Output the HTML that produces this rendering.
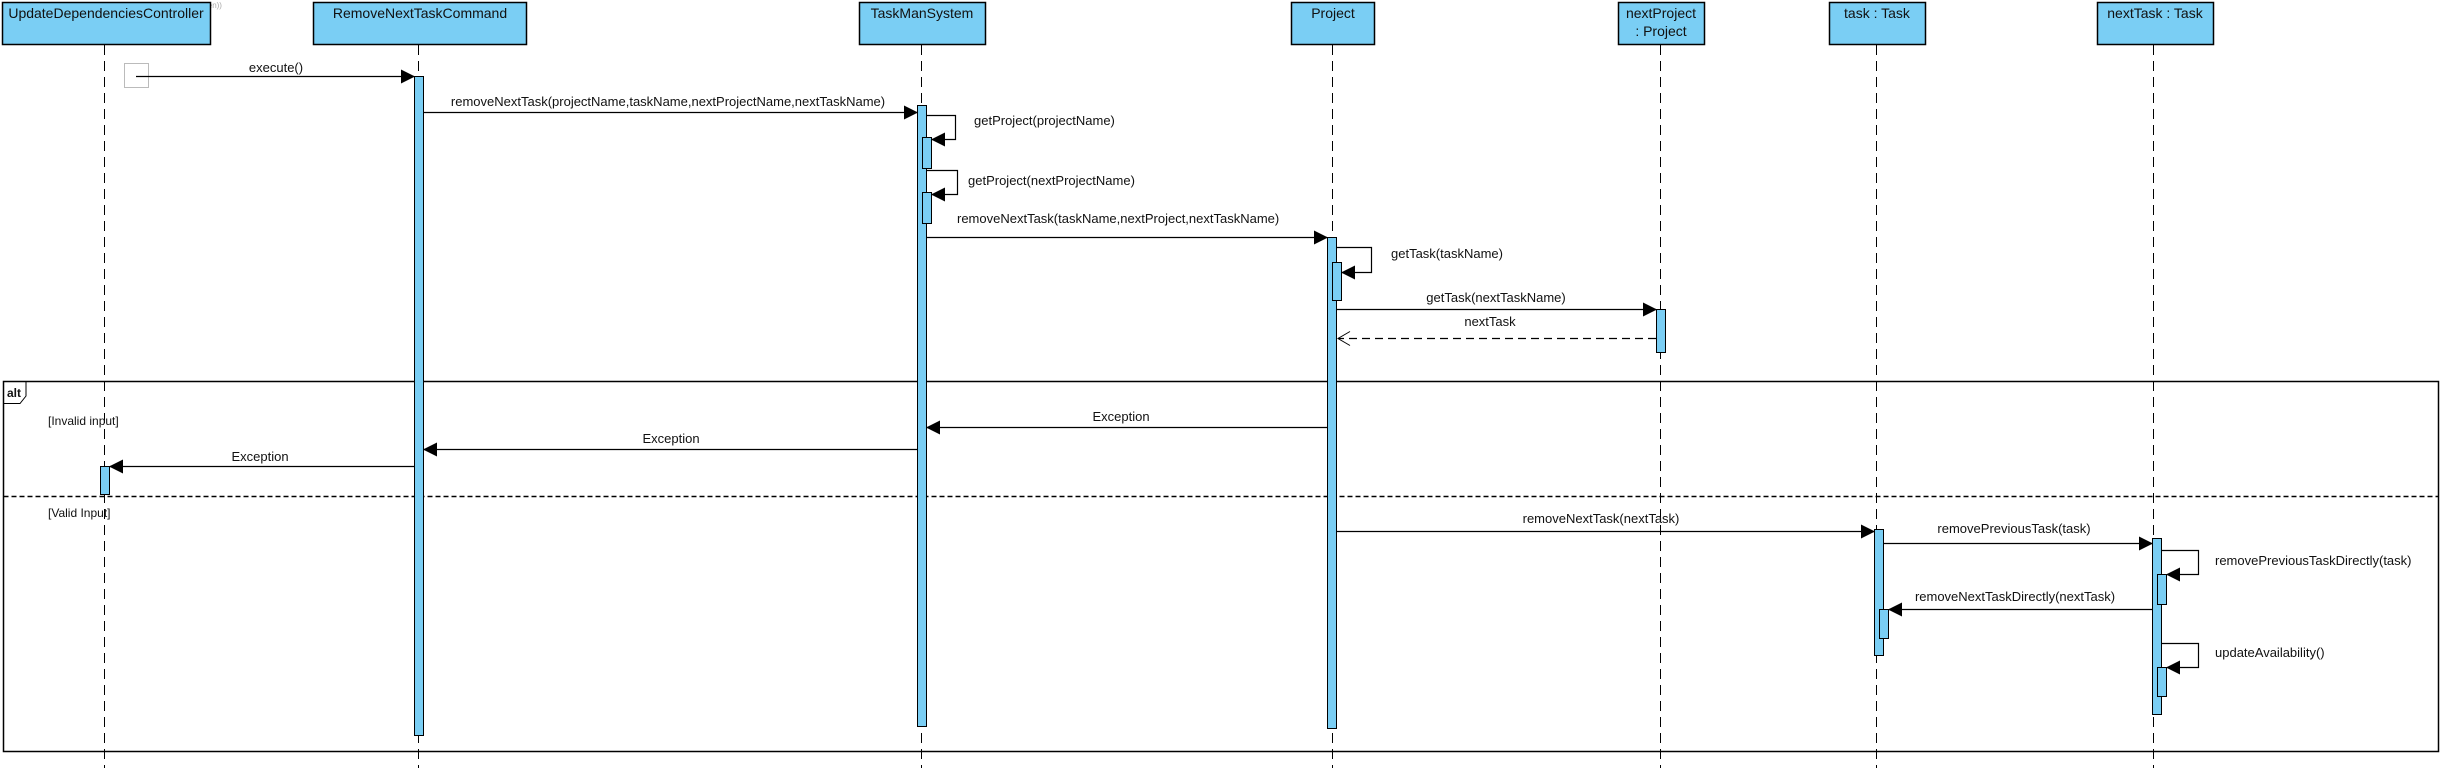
<!DOCTYPE html>
<html><head><meta charset="utf-8">
<style>
html,body{margin:0;padding:0;background:#fff;}
svg{display:block;}
text{font-family:"Liberation Sans",Arial,sans-serif;fill:#111;}
</style></head>
<body>
<svg width="2441" height="768" viewBox="0 0 2441 768" xmlns="http://www.w3.org/2000/svg">
<defs>
<marker id="f" markerWidth="14" markerHeight="14" refX="13" refY="7" orient="auto" markerUnits="userSpaceOnUse">
<path d="M0,0 L14,7 L0,14 z" fill="#000"/>
</marker>
<marker id="o" markerWidth="15" markerHeight="16" refX="13" refY="8" orient="auto" markerUnits="userSpaceOnUse">
<path d="M1,1 L13,8 L1,15" fill="none" stroke="#000" stroke-width="1"/>
</marker>
</defs>
<text x="2" y="8" font-size="8" style="fill:#aaa">Visual Paradigm Standard(Dieter van Hooydonk(K.U.Leuven))</text>

<g stroke="#000" stroke-width="1" stroke-dasharray="10,6">
<line x1="104.5" y1="45" x2="104.5" y2="768"/>
<line x1="418.5" y1="45" x2="418.5" y2="768"/>
<line x1="921.5" y1="45" x2="921.5" y2="768"/>
<line x1="1332.5" y1="45" x2="1332.5" y2="768"/>
<line x1="1660.5" y1="45" x2="1660.5" y2="768"/>
<line x1="1876.5" y1="45" x2="1876.5" y2="768"/>
<line x1="2153.5" y1="45" x2="2153.5" y2="768"/>
</g>

<g fill="#7ACEF4" stroke="#000" stroke-width="1.5">
<rect x="2.5" y="2.5" width="208" height="42"/>
<rect x="313.5" y="2.5" width="213" height="42"/>
<rect x="859.5" y="2.5" width="126" height="42"/>
<rect x="1291.5" y="2.5" width="83" height="42"/>
<rect x="1618.5" y="2.5" width="86" height="42"/>
<rect x="1829.5" y="2.5" width="96" height="42"/>
<rect x="2097.5" y="2.5" width="116" height="42"/>
</g>
<g font-size="14" text-anchor="middle">
<text x="106" y="18">UpdateDependenciesController</text>
<text x="420" y="18">RemoveNextTaskCommand</text>
<text x="922" y="18">TaskManSystem</text>
<text x="1333" y="18">Project</text>
<text x="1661" y="18">nextProject</text>
<text x="1661" y="36">: Project</text>
<text x="1877" y="18">task : Task</text>
<text x="2155" y="18">nextTask : Task</text>
</g>

<rect x="3.5" y="381.5" width="2435" height="370" fill="none" stroke="#000" stroke-width="1.5"/>
<path d="M3.5,403.5 H20 L26,396 V381.5" fill="none" stroke="#000" stroke-width="1"/>
<text x="7" y="397" font-size="12" font-weight="bold">alt</text>
<line x1="3.5" y1="496.5" x2="2438.5" y2="496.5" stroke="#000" stroke-width="1.5" stroke-dasharray="5,3"/>
<text x="48" y="425" font-size="12">[Invalid input]</text>
<text x="48" y="517" font-size="12">[Valid Input]</text>

<g fill="#7ACEF4" stroke="#000" stroke-width="1">
<rect x="414.5" y="76.5" width="9" height="659"/>
<rect x="917.5" y="105.5" width="9" height="621"/>
<rect x="922.5" y="137.5" width="9" height="31"/>
<rect x="922.5" y="192.5" width="9" height="31"/>
<rect x="1327.5" y="237.5" width="9" height="491"/>
<rect x="1332.5" y="262.5" width="9" height="38"/>
<rect x="1656.5" y="309.5" width="9" height="43"/>
<rect x="100.5" y="466.5" width="9" height="28"/>
<rect x="1874.5" y="529.5" width="9" height="126"/>
<rect x="1879.5" y="609.5" width="9" height="29"/>
<rect x="2152.5" y="538.5" width="9" height="176"/>
<rect x="2157.5" y="574.5" width="9" height="30"/>
<rect x="2157.5" y="667.5" width="9" height="29"/>
</g>

<rect x="124.5" y="63.5" width="24" height="24" fill="none" stroke="#bbb" stroke-width="1"/>

<g stroke="#000" stroke-width="1.2" fill="none">
<line x1="136" y1="76.5" x2="414" y2="76.5" marker-end="url(#f)"/>
<line x1="424" y1="112.5" x2="917" y2="112.5" marker-end="url(#f)"/>
<polyline points="927,115.5 955.5,115.5 955.5,139.5 932,139.5" marker-end="url(#f)"/>
<polyline points="927,170.5 957.5,170.5 957.5,194.5 932,194.5" marker-end="url(#f)"/>
<line x1="927" y1="237.5" x2="1327" y2="237.5" marker-end="url(#f)"/>
<polyline points="1337,247.5 1371.5,247.5 1371.5,272.5 1342,272.5" marker-end="url(#f)"/>
<line x1="1337" y1="309.5" x2="1656" y2="309.5" marker-end="url(#f)"/>
<line x1="1656" y1="338.5" x2="1338" y2="338.5" stroke-dasharray="8,5" marker-end="url(#o)"/>
<line x1="1327" y1="427.5" x2="927" y2="427.5" marker-end="url(#f)"/>
<line x1="917" y1="449.5" x2="424" y2="449.5" marker-end="url(#f)"/>
<line x1="414" y1="466.5" x2="110" y2="466.5" marker-end="url(#f)"/>
<line x1="1337" y1="531.5" x2="1874" y2="531.5" marker-end="url(#f)"/>
<line x1="1884" y1="543.5" x2="2152" y2="543.5" marker-end="url(#f)"/>
<polyline points="2162,550.5 2198.5,550.5 2198.5,574.5 2167,574.5" marker-end="url(#f)"/>
<line x1="2152" y1="609.5" x2="1889" y2="609.5" marker-end="url(#f)"/>
<polyline points="2162,643.5 2198.5,643.5 2198.5,667.5 2167,667.5" marker-end="url(#f)"/>
</g>

<g font-size="13">
<text x="276" y="72" text-anchor="middle">execute()</text>
<text x="668" y="106" text-anchor="middle">removeNextTask(projectName,taskName,nextProjectName,nextTaskName)</text>
<text x="974" y="125">getProject(projectName)</text>
<text x="968" y="185">getProject(nextProjectName)</text>
<text x="957" y="223">removeNextTask(taskName,nextProject,nextTaskName)</text>
<text x="1391" y="258">getTask(taskName)</text>
<text x="1496" y="302" text-anchor="middle">getTask(nextTaskName)</text>
<text x="1490" y="326" text-anchor="middle">nextTask</text>
<text x="1121" y="421" text-anchor="middle">Exception</text>
<text x="671" y="443" text-anchor="middle">Exception</text>
<text x="260" y="461" text-anchor="middle">Exception</text>
<text x="1601" y="523" text-anchor="middle">removeNextTask(nextTask)</text>
<text x="2014" y="533" text-anchor="middle">removePreviousTask(task)</text>
<text x="2215" y="565">removePreviousTaskDirectly(task)</text>
<text x="2015" y="601" text-anchor="middle">removeNextTaskDirectly(nextTask)</text>
<text x="2215" y="657">updateAvailability()</text>
</g>
</svg>
</body></html>
